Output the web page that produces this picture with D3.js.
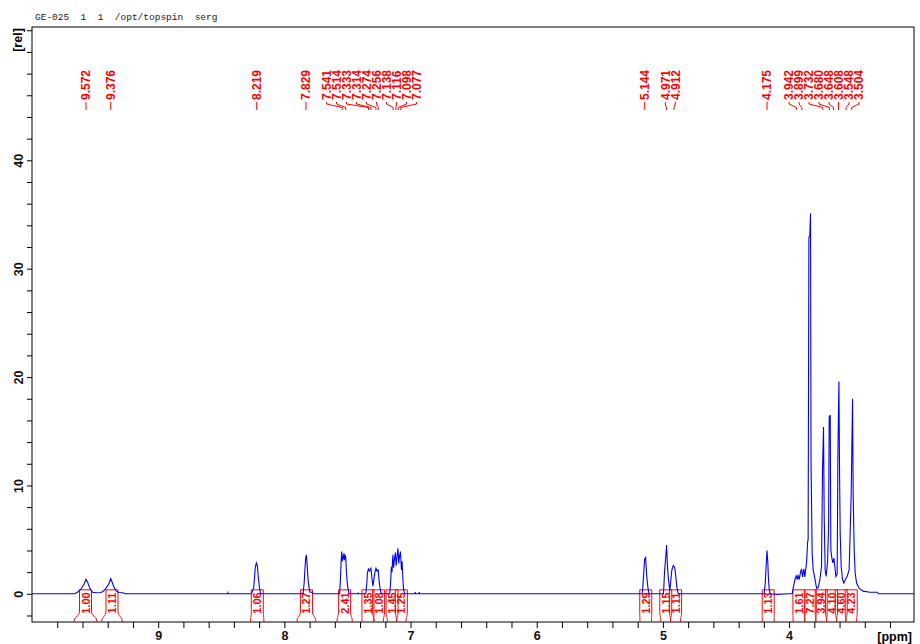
<!DOCTYPE html>
<html>
<head>
<meta charset="utf-8">
<script src="https://cdn.jsdelivr.net/npm/d3@7"></script>
<style>
  body { margin: 0; background: #fff; }
  svg { display: block; font-family: "Liberation Sans", Arial, sans-serif; }
  .tick text { font-weight: bold; font-size: 12.5px; fill: #111; }
  .tick line { stroke: #000; }
</style>
</head>
<body>
<svg></svg>
<script>
var width = 920;
var height = 644;

var margin = {left: 32, top: 27, right: 6, bottom: 22};

// spectrum trace (ppm, rel. intensity)
var specPpm = [
  10.0, 9.66, 9.64, 9.615, 9.595, 9.585, 9.572, 9.56, 9.548, 9.535, 9.52, 9.49,
  9.45, 9.425, 9.40, 9.388, 9.376, 9.364, 9.35, 9.335, 9.315, 9.28, 9.26,
  8.45, 8.448, 8.445,
  8.26, 8.244, 8.236, 8.231, 8.222, 8.214, 8.207, 8.197, 8.188,
  7.852, 7.843, 7.838, 7.831, 7.825, 7.818, 7.811, 7.803, 7.797, 7.78, 7.77,
  7.562, 7.556, 7.550, 7.545, 7.540, 7.536, 7.532, 7.528, 7.523, 7.518, 7.513, 7.508, 7.503, 7.496, 7.488,
  7.416, 7.414, 7.412,
  7.355, 7.346, 7.342, 7.333, 7.327, 7.321, 7.314, 7.306, 7.298, 7.290, 7.282, 7.274, 7.266, 7.262, 7.256, 7.249, 7.240, 7.232,
  7.165, 7.158, 7.152, 7.147, 7.140, 7.134, 7.128, 7.120, 7.114, 7.108, 7.100, 7.093, 7.087, 7.080, 7.072, 7.067, 7.060, 7.055, 7.047,
  6.965, 6.963, 6.960, 6.933, 6.931, 6.928,
  5.165, 5.161, 5.153, 5.145, 5.137, 5.132, 5.127, 5.119, 5.111,
  4.995, 4.987, 4.976, 4.971, 4.963, 4.955, 4.945, 4.939, 4.929, 4.918, 4.907, 4.899, 4.889, 4.879,
  4.197, 4.189, 4.182, 4.175, 4.169, 4.164, 4.158, 4.150, 4.10, 4.00,
  3.975, 3.968, 3.954, 3.944, 3.936, 3.928, 3.920, 3.909, 3.901, 3.893, 3.883, 3.875, 3.861, 3.853,
  3.849, 3.843, 3.836, 3.830, 3.826, 3.817, 3.809, 3.796, 3.782, 3.769, 3.756, 3.743,
  3.735, 3.727, 3.722, 3.714, 3.706, 3.695, 3.687, 3.682, 3.674, 3.669, 3.661, 3.653, 3.645, 3.637, 3.629,
  3.619, 3.613, 3.605, 3.600, 3.595, 3.587, 3.576, 3.566, 3.555, 3.540, 3.524,
  3.508, 3.497, 3.492, 3.484, 3.476, 3.465, 3.444, 3.413, 3.36, 3.30, 3.29, 3.01
];
var specInt = [
  0, 0, 0.15, 0.4, 0.75, 0.95, 1.35, 1.1, 0.7, 0.35, 0.15, 0.1,
  0.12, 0.35, 0.75, 1.0, 1.4, 1.05, 0.6, 0.3, 0.12, 0.1, 0,
  0, 0.1, 0,
  0, 0.5, 1.5, 2.4, 2.85, 2.6, 1.6, 0.55, 0,
  0, 1.0, 2.05, 3.3, 3.6, 2.4, 1.15, 0.5, 0.15, 0.15, 0,
  0, 1.2, 3.0, 3.9, 3.0, 3.5, 3.2, 3.75, 3.1, 3.6, 3.3, 2.0, 1.2, 0.5, 0,
  0, 0.12, 0,
  0, 1.0, 1.9, 2.35, 2.1, 2.2, 2.35, 1.45, 0.7, 1.4, 2.0, 2.35, 2.1, 2.2, 2.2, 1.15, 0.4, 0,
  0, 1.0, 2.5, 2.0, 3.6, 2.4, 3.2, 3.8, 2.6, 3.3, 4.2, 2.8, 3.5, 3.9, 2.2, 3.0, 1.2, 0.4, 0,
  0, 0.15, 0, 0, 0.15, 0,
  0, 0.3, 1.75, 3.2, 3.35, 2.35, 1.45, 0.6, 0,
  0, 2.05, 3.6, 4.5, 2.35, 1.2, 0.3, 1.0, 2.2, 2.6, 2.45, 1.75, 0.6, 0,
  0, 1.0, 2.5, 4.0, 3.0, 1.5, 0.5, 0, -0.05, 0,
  0, 0.5, 1.3, 1.65, 1.3, 1.75, 1.3, 2.0, 2.3, 1.55, 2.3, 1.55, 2.95, 4.8,
  5.0, 32.9, 33.0, 35.1, 12.2, 3.75, 2.2, 1.45, 0.5, 0.6, 1.3, 2.5,
  11.4, 15.4, 7.4, 2.2, 1.6, 3.0, 6.1, 16.3, 16.5, 4.05, 3.3, 2.85, 3.3, 2.5, 1.6,
  1.8, 13.0, 19.6, 11.2, 5.6, 2.5, 1.3, 1.0, 1.3, 1.6, 2.2,
  9.1, 18.0, 9.1, 4.05, 1.9, 1.0, 0.5, 0.25, 0.15, 0.15, 0, 0
];

// picked peaks
var peakPpm = [9.572, 9.376, 8.219, 7.829,
  7.541, 7.514, 7.333, 7.314, 7.274, 7.256, 7.138, 7.116, 7.098, 7.077,
  5.144, 4.971, 4.912, 4.175,
  3.942, 3.899, 3.732, 3.680, 3.648, 3.608, 3.548, 3.504];

// integrals
var intLabels = ["1.00", "1.11", "1.06", "1.27", "2.41", "1.35", "1.08", "1.45", "1.25",
  "1.29", "1.15", "1.11", "1.13", "1.61", "7.27", "3.94", "4.10", "4.60", "4.23"];
var intFrom = [9.667, 9.448, 8.267, 7.900, 7.583, 7.385, 7.290, 7.183, 7.110,
  5.182, 5.016, 4.939, 4.213, 3.968, 3.876, 3.788, 3.703, 3.624, 3.550];
var intTo = [9.485, 9.284, 8.162, 7.750, 7.462, 7.290, 7.216, 7.110, 7.036,
  5.090, 4.939, 4.860, 4.118, 3.876, 3.788, 3.703, 3.624, 3.550, 3.465];

var xDomain = [10.0, 3.01];
var yDomain = [-2.6, 52.3];
var xTicks = d3.range(32, 100, 2).map(d => d / 10);
var xLabels = [4, 5, 6, 7, 8, 9];
var yTicks = d3.range(-2, 53, 2);
var yLabels = [0, 10, 20, 30, 40];

var svg = d3.select("svg")
  .attr("width", width)
  .attr("height", height);

svg.append("rect")
  .attr("width", width).attr("height", height)
  .attr("fill", "#fff");

var x = d3.scaleLinear()
  .domain(xDomain)
  .range([margin.left, width - margin.right]);

var y = d3.scaleLinear()
  .domain(yDomain)
  .range([height - margin.bottom, margin.top]);

// title line
svg.append("text")
  .attr("x", 35).attr("y", 20)
  .style("font-family", "'Liberation Mono', 'DejaVu Sans Mono', monospace")
  .style("font-size", "9.5px")
  .style("fill", "#222")
  .attr("xml:space", "preserve")
  .text("GE-025  1  1  /opt/topspin  serg");

// x axis
var xAxis = d3.axisBottom(x)
  .tickValues(xTicks)
  .tickSize(6)
  .tickFormat(d => xLabels.some(v => Math.abs(v - d) < 1e-6) ? d3.format("d")(d) : "");

var xg = svg.append("g")
  .attr("transform", "translate(0," + (height - margin.bottom) + ")")
  .call(xAxis);
xg.select(".domain").remove();
xg.selectAll(".tick text").attr("dy", "0.95em").attr("y", 6);

svg.append("text")
  .attr("x", width - 8).attr("y", 641)
  .attr("text-anchor", "end")
  .style("font-weight", "bold").style("font-size", "12.5px")
  .text("[ppm]");

// y axis
var yAxis = d3.axisLeft(y)
  .tickValues(yTicks)
  .tickSize(5)
  .tickFormat(d => yLabels.indexOf(d) >= 0 ? d : "");

var yg = svg.append("g")
  .attr("transform", "translate(" + margin.left + ",0)")
  .call(yAxis);
yg.select(".domain").remove();
yg.selectAll(".tick text")
  .attr("x", null).attr("dy", null)
  .attr("text-anchor", "middle")
  .attr("transform", "translate(-9,0) rotate(-90)");

svg.append("text")
  .attr("transform", "translate(22,40) rotate(-90)")
  .attr("text-anchor", "middle")
  .style("font-weight", "bold").style("font-size", "12.5px")
  .text("[rel]");

// frame
svg.append("rect")
  .attr("x", margin.left).attr("y", margin.top)
  .attr("width", width - margin.right - margin.left)
  .attr("height", height - margin.bottom - margin.top)
  .attr("fill", "none").attr("stroke", "#000").attr("stroke-width", 1);

// integrals below the baseline
var red = "#ff0000";
var intG = svg.append("g");
intLabels.forEach(function(lab, i){
  var x1 = x(intFrom[i]), x2 = x(intTo[i]);
  var c = (x1 + x2) / 2;
  var bl = c - 6, br = c + 6;
  var yb = height - margin.bottom, yt = y(0) - 4;
  intG.append("path")
    .attr("d", "M" + x1 + "," + yb + " C" + x1 + "," + (yb - 6) + " " + bl + "," + (yb - 5) + " " + bl + "," + (yb - 11) +
      " V" + yt + " H" + br + " V" + (yb - 11) + " C" + br + "," + (yb - 5) + " " + x2 + "," + (yb - 6) + " " + x2 + "," + yb)
    .attr("fill", "none").attr("stroke", red).attr("stroke-width", 1);
  intG.append("text")
    .attr("transform", "translate(" + (c + 4) + "," + 603 + ") rotate(-90)")
    .attr("text-anchor", "middle")
    .style("font-weight", "bold").style("font-size", "11px")
    .style("fill", red)
    .text(lab);
});

// spectrum
var line = d3.line()
  .x(d => x(d[0]))
  .y(d => y(d[1]));

svg.append("path")
  .datum(specPpm.map((p, i) => [p, specInt[i]]))
  .attr("d", line)
  .attr("fill", "none")
  .attr("stroke", "#0000ff")
  .attr("stroke-width", 1.1);

// peak labels, spread so they do not overlap
var gap = 10;
var px = peakPpm.map(p => x(p));
var groups = px.map((v, i) => ({start: i, end: i}));
function gStart(g){
  var c = (px[g.start] + px[g.end]) / 2;
  return c - (g.end - g.start) * gap / 2;
}
var merged = true;
while(merged){
  merged = false;
  for(var i = 0; i < groups.length - 1; i++){
    var a = groups[i], b = groups[i + 1];
    var aEnd = gStart(a) + (a.end - a.start) * gap;
    if(gStart(b) - aEnd < gap){
      groups.splice(i, 2, {start: a.start, end: b.end});
      merged = true;
      break;
    }
  }
}
var labelX = [];
groups.forEach(function(g){
  var s = gStart(g);
  for(var k = g.start; k <= g.end; k++) labelX[k] = s + (k - g.start) * gap;
});

var pk = svg.append("g");
peakPpm.forEach(function(p, i){
  var lx = labelX[i], pX = px[i];
  pk.append("text")
    .attr("transform", "translate(" + (lx + 4.3) + ",100) rotate(-90)")
    .style("font-weight", "bold").style("font-size", "12px")
    .style("fill", red)
    .text(d3.format(".3f")(p));
  var d = Math.abs(lx - pX) < 0.5
    ? "M" + pX + ",102 V110"
    : "M" + lx + ",102 V104 L" + pX + ",107.5 V110";
  pk.append("path")
    .attr("d", d)
    .attr("fill", "none").attr("stroke", red).attr("stroke-width", 1);
});
</script>
</body>
</html>
